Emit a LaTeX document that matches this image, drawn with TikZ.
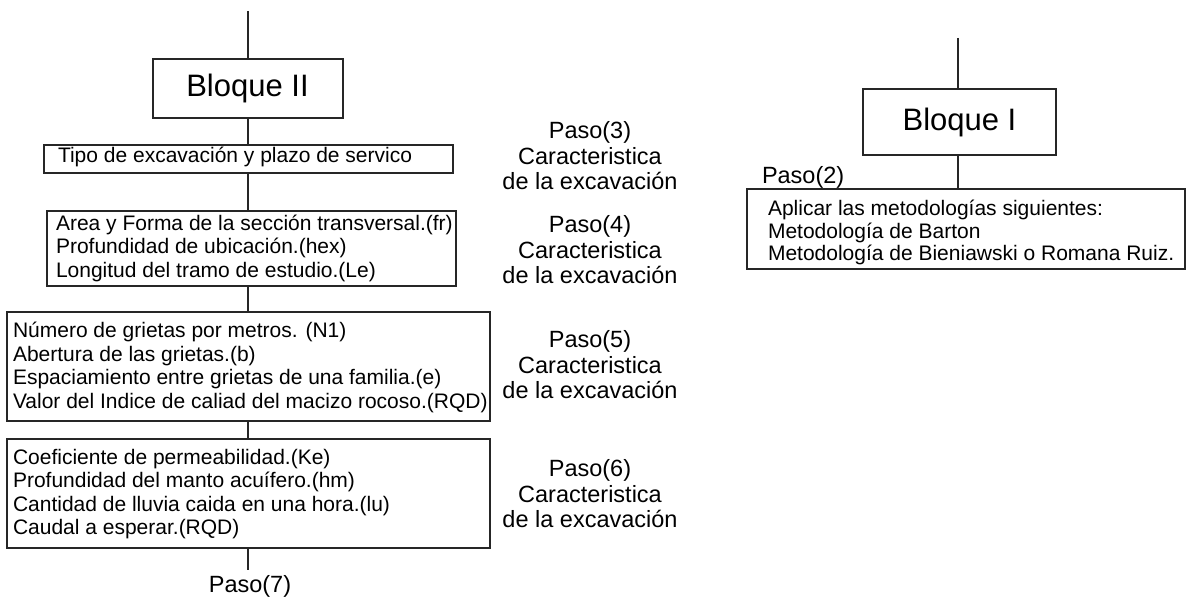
\documentclass[tikz,border=0pt]{standalone}
\usepackage{fontspec}
\setmainfont{Liberation Sans}
\begin{document}
\begin{tikzpicture}[x=1pt,y=-1pt,
  every node/.style={inner sep=0pt, outer sep=0pt},
  conn/.style={line width=2pt, draw=black!85},
  bigbox/.style={draw=black!85, line width=2pt, font=\fontsize{31}{34}\selectfont},
  framebox/.style={draw=black!85, line width=2pt},
  listtext/.style={anchor=west, align=left, font=\fontsize{21}{23.5}\selectfont},
  pasolbl/.style={align=center, font=\fontsize{23.5}{25.5}\selectfont}
]
\useasboundingbox (0,0) rectangle (1186,599);
% left column
\coordinate (ltop) at (247.5,11);
\node[bigbox, minimum width=190pt, minimum height=59pt] (b2) at (247.5,88.5) {Bloque II};
\node[framebox, minimum width=409pt, minimum height=28pt] (tipo) at (248.5,159) {};
\node[framebox, minimum width=409pt, minimum height=75pt] (area) at (251.5,248.5) {};
\node[framebox, minimum width=483pt, minimum height=109pt] (grie) at (248.5,366.5) {};
\node[framebox, minimum width=483pt, minimum height=109pt] (perm) at (248.5,493.5) {};
\node[listtext] (tipot) at ([xshift=14pt,yshift=2.5pt]tipo.west)
  {Tipo de excavación y plazo de servico};
\node[listtext] (areat) at ([xshift=9pt,yshift=0.5pt]area.west)
  {Area y Forma de la sección transversal.(fr)\\Profundidad de ubicación.(hex)\\Longitud del tramo de estudio.(Le)};
\node[listtext] (griet) at ([xshift=6pt,yshift=-1pt]grie.west)
  {Número de grietas por metros. (N1)\\Abertura de las grietas.(b)\\Espaciamiento entre grietas de una familia.(e)\\Valor del Indice de caliad del macizo rocoso.(RQD)};
\node[listtext] (permt) at ([xshift=6pt,yshift=-0.5pt]perm.west)
  {Coeficiente de permeabilidad.(Ke)\\Profundidad del manto acuífero.(hm)\\Cantidad de lluvia caida en una hora.(lu)\\Caudal a esperar.(RQD)};
\coordinate (lend) at (247.5,570);
\node[pasolbl] (p7) at (250,586) {Paso(7)};
\draw[conn] (ltop) -- (ltop |- b2.north);
\draw[conn] (b2.south) -- (b2.south |- tipo.north);
\draw[conn] (b2.south |- tipo.south) -- (b2.south |- area.north);
\draw[conn] (b2.south |- area.south) -- (b2.south |- grie.north);
\draw[conn] (b2.south |- grie.south) -- (b2.south |- perm.north);
\draw[conn] (b2.south |- perm.south) -- (lend);
% step labels
\node[pasolbl] (p3) at (590,156) {Paso(3)\\Caracteristica\\de la excavación};
\node[pasolbl] (p4) at (590,250) {Paso(4)\\Caracteristica\\de la excavación};
\node[pasolbl] (p5) at (590,365) {Paso(5)\\Caracteristica\\de la excavación};
\node[pasolbl] (p6) at (590,494) {Paso(6)\\Caracteristica\\de la excavación};
% right column
\coordinate (rtop) at (958,38);
\node[bigbox, minimum width=193pt, minimum height=66pt] (b1) at (959.5,122) {Bloque I};
\node[framebox, minimum width=438pt, minimum height=80pt] (meto) at (966,229) {};
\node[listtext, font=\fontsize{21}{22.5}\selectfont] (metot) at ([xshift=21pt,yshift=-3.5pt]meto.west)
  {Aplicar las metodologías siguientes:\\Metodología de Barton\\Metodología de Bieniawski o Romana Ruiz.};
\node[pasolbl, anchor=west] (p2) at (762,177) {Paso(2)};
\draw[conn] (rtop) -- (rtop |- b1.north);
\draw[conn] (rtop |- b1.south) -- (rtop |- meto.north);
\end{tikzpicture}
\end{document}
